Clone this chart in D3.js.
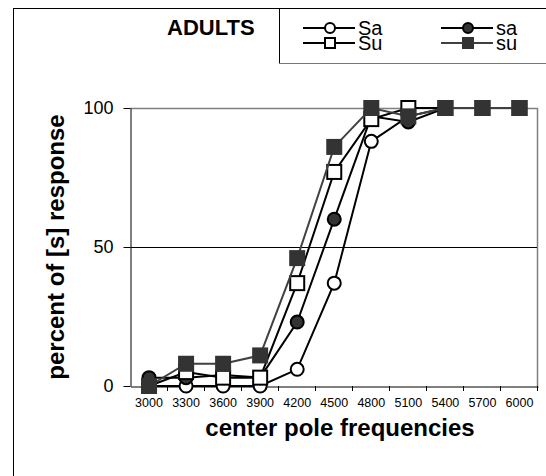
<!DOCTYPE html>
<html>
<head>
<meta charset="utf-8">
<script src="https://cdn.jsdelivr.net/npm/d3@7.9.0/dist/d3.min.js"></script>
<style>
  body { margin: 0; background: #fff; }
  svg { display: block; font-family: "Liberation Sans", Arial, sans-serif; }
</style>
</head>
<body>
<svg id="chart" width="546" height="476"></svg>
<script>
// categories (center pole frequency, Hz)
const frequencies = ["3000", "3300", "3600", "3900", "4200", "4500", "4800", "5100", "5400", "5700", "6000"];

// percent of [s] responses
const Sa = [0, 0, 0, 0, 6, 37, 88, 97, 100, 100, 100];
const sa = [3, 3, 4, 3, 23, 60, 97, 95, 100, 100, 100];
const Su = [0, 5, 3, 3, 37, 77, 96, 100, 100, 100, 100];
const su = [0, 8, 8, 11, 46, 86, 100, 97, 100, 100, 100];

const yTicks = [0, 50, 100];

const seriesList = [
  { name: "Sa", values: Sa, shape: "circle", fill: "#fff", stroke: "#000", line: "#000" },
  { name: "sa", values: sa, shape: "circle", fill: "#333", stroke: "#000", line: "#000" },
  { name: "Su", values: Su, shape: "square", fill: "#fff", stroke: "#000", line: "#000" },
  { name: "su", values: su, shape: "square", fill: "#333", stroke: "#333", line: "#404040" }
];

const svg = d3.select("#chart");

// outer chart frame (runs off the right / bottom edge like the original)
svg.append("rect")
  .attr("x", 13.5).attr("y", 8.5)
  .attr("width", 700).attr("height", 700)
  .attr("fill", "#fff").attr("stroke", "#000");

// plot area
const plotLeft = 130.5, plotRight = 538, plotTop = 108, plotBottom = 386;

const x = d3.scaleBand().domain(frequencies).range([plotLeft, plotRight]).padding(0);
const y = d3.scaleLinear().domain([0, 100]).range([plotBottom, plotTop]);

// plot border (gray top + right)
svg.append("path")
  .attr("d", `M${plotLeft},${plotTop + 0.5}H${plotRight - 0.5}V${plotBottom}`)
  .attr("fill", "none").attr("stroke", "#808080").attr("stroke-width", 1.5);

// gridline at 50
svg.append("line")
  .attr("x1", plotLeft).attr("x2", plotRight - 1)
  .attr("y1", Math.round(y(50)) + 0.5).attr("y2", Math.round(y(50)) + 0.5)
  .attr("stroke", "#000");

// y axis
const yAxis = svg.append("g")
  .attr("transform", `translate(${plotLeft},0)`)
  .call(d3.axisLeft(y).tickValues(yTicks).tickSize(7).tickPadding(10).tickSizeOuter(0));
yAxis.select(".domain").attr("stroke", "#000");
yAxis.selectAll("text").attr("font-size", 18).attr("fill", "#000")
  .attr("font-family", "Liberation Sans, Arial, sans-serif");

// x axis: labels under category centres, ticks between categories
const xAxis = svg.append("g")
  .attr("transform", `translate(0,${plotBottom + 0.5})`)
  .call(d3.axisBottom(x).tickSize(0).tickPadding(12));
xAxis.select(".domain").attr("stroke", "#000");
xAxis.selectAll("text").attr("font-size", 12.5).attr("fill", "#000")
  .attr("font-family", "Liberation Sans, Arial, sans-serif");

svg.append("g").selectAll("line")
  .data(frequencies.slice(1).concat(["end"]))
  .join("line")
  .attr("x1", d => Math.round(d === "end" ? plotRight : x(d)) - 0.5)
  .attr("x2", d => Math.round(d === "end" ? plotRight : x(d)) - 0.5)
  .attr("y1", plotBottom).attr("y2", plotBottom + 5)
  .attr("stroke", "#000");

// axis titles
svg.append("text")
  .attr("x", 340).attr("y", 436)
  .attr("text-anchor", "middle")
  .attr("font-size", 24).attr("font-weight", "bold")
  .text("center pole frequencies");

svg.append("text")
  .attr("transform", "translate(64,247) rotate(-90)")
  .attr("text-anchor", "middle")
  .attr("font-size", 24).attr("font-weight", "bold")
  .text("percent of [s] response");

// series
const line = d3.line()
  .x((d, i) => x(frequencies[i]) + x.bandwidth() / 2)
  .y(d => y(d));

function drawMarker(g, shape, cx, cy, size, fill, stroke) {
  if (shape === "circle") {
    g.append("circle").attr("cx", cx).attr("cy", cy).attr("r", size / 2)
      .attr("fill", fill).attr("stroke", stroke).attr("stroke-width", 2);
  } else {
    g.append("rect").attr("x", cx - size / 2).attr("y", cy - size / 2)
      .attr("width", size).attr("height", size)
      .attr("fill", fill).attr("stroke", stroke).attr("stroke-width", 2);
  }
}

seriesList.forEach(s => {
  const g = svg.append("g");
  g.append("path")
    .attr("d", line(s.values))
    .attr("fill", "none").attr("stroke", s.line).attr("stroke-width", 2);
  s.values.forEach((v, i) => {
    const size = s.shape === "circle" ? 13 : 14;
    drawMarker(g, s.shape, x(frequencies[i]) + x.bandwidth() / 2, y(v), size, s.fill, s.stroke);
  });
});

// legend
svg.append("text")
  .attr("x", 167).attr("y", 35)
  .attr("font-size", 22).attr("font-weight", "bold")
  .text("ADULTS");

const legendBox = svg.append("g");
legendBox.append("line").attr("x1", 279.5).attr("x2", 279.5).attr("y1", 8).attr("y2", 63)
  .attr("stroke", "#000");
legendBox.append("line").attr("x1", 279).attr("x2", 546).attr("y1", 63.5).attr("y2", 63.5)
  .attr("stroke", "#777");

const legendPos = [
  { lx: 303, ly: 28 }, { lx: 441, ly: 28 },
  { lx: 303, ly: 43 }, { lx: 441, ly: 43 }
];

seriesList.forEach((s, i) => {
  const p = legendPos[i];
  const g = legendBox.append("g");
  g.append("line")
    .attr("x1", p.lx).attr("x2", p.lx + 52)
    .attr("y1", p.ly).attr("y2", p.ly)
    .attr("stroke", s.line).attr("stroke-width", 2);
  drawMarker(g, s.shape, p.lx + 27, p.ly, 10, s.fill, s.stroke);
  g.append("text")
    .attr("x", p.lx + 55).attr("y", p.ly + 7)
    .attr("font-size", 20)
    .text(s.name);
});
</script>
</body>
</html>
